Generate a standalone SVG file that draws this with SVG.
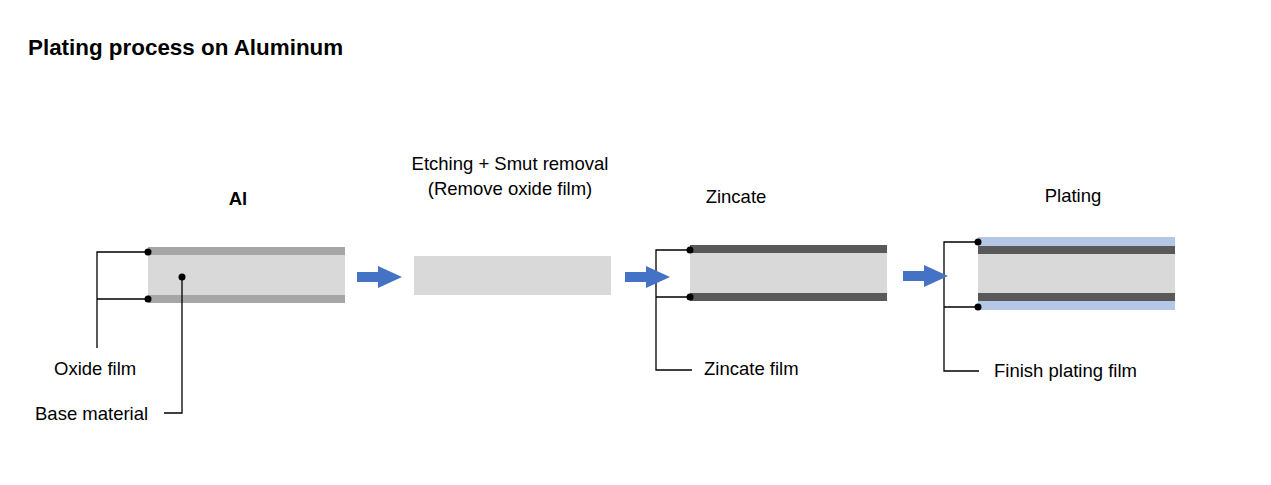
<svg xmlns="http://www.w3.org/2000/svg" width="1271" height="485" viewBox="0 0 1271 485">
<style>
text{font-family:"Liberation Sans",Arial,sans-serif;font-size:18.5px;fill:#000}
.b{font-weight:bold}
.t{font-size:22.4px}
.base{fill:#d9d9d9}
.ox{fill:#a6a6a6}
.zn{fill:#595959}
.pl{fill:#b4c7e7}
.ln{fill:none;stroke:#000;stroke-width:1.3}
.dot{fill:#000}
.arr{fill:#4472c4}
</style>
<defs>
<path id="arrow" d="M0,-5 H21 V-11 L45,0 L21,11 V5 H0 Z"/>
</defs>
<rect width="1271" height="485" fill="#fff"/>
<text class="b t" x="28" y="55">Plating process on Aluminum</text>

<g id="node-al">
<text class="b" x="238" y="205" text-anchor="middle">Al</text>
<rect class="ox" x="148" y="247" width="197" height="8"/>
<rect class="base" x="148" y="255" width="197" height="40"/>
<rect class="ox" x="148" y="295" width="197" height="8"/>
</g>

<g id="node-etch">
<text x="510" y="170" text-anchor="middle">Etching + Smut removal</text>
<text x="510" y="195" text-anchor="middle">(Remove oxide film)</text>
<rect class="base" x="414" y="256" width="197" height="39"/>
</g>

<g id="node-zincate">
<text x="736" y="203" text-anchor="middle">Zincate</text>
<rect class="zn" x="690" y="245" width="197" height="8"/>
<rect class="base" x="690" y="253" width="197" height="40"/>
<rect class="zn" x="690" y="293" width="197" height="8"/>
</g>

<g id="node-plating">
<text x="1073" y="202" text-anchor="middle">Plating</text>
<rect class="pl" x="978" y="237" width="197" height="9"/>
<rect class="zn" x="978" y="246" width="197" height="8"/>
<rect class="base" x="978" y="254" width="197" height="39"/>
<rect class="zn" x="978" y="293" width="197" height="8"/>
<rect class="pl" x="978" y="301" width="197" height="9"/>
</g>

<g id="label-oxide">
<path class="ln" d="M148,252 H97 V348 M97,299 H148"/>
<circle class="dot" cx="148" cy="252" r="3.5"/>
<circle class="dot" cx="148" cy="299" r="3.5"/>
<text x="54" y="375">Oxide film</text>
</g>

<g id="label-base">
<path class="ln" d="M182,277 V413 H164"/>
<circle class="dot" cx="182" cy="277" r="3.5"/>
<text x="35" y="420">Base material</text>
</g>

<g id="label-zincate-film">
<path class="ln" d="M690,250 H656 V370 H692 M656,297 H690"/>
<circle class="dot" cx="690" cy="250" r="3.5"/>
<circle class="dot" cx="690" cy="297" r="3.5"/>
<text x="704" y="375">Zincate film</text>
</g>

<g id="label-finish">
<path class="ln" d="M978,242 H944 V371 H979 M944,307 H978"/>
<circle class="dot" cx="978" cy="242" r="3.5"/>
<circle class="dot" cx="978" cy="307" r="3.5"/>
<text x="994" y="377">Finish plating film</text>
</g>

<g id="connectors">
<use href="#arrow" class="arr" x="357" y="277"/>
<use href="#arrow" class="arr" x="625" y="277"/>
<use href="#arrow" class="arr" x="903" y="276"/>
</g>
</svg>
